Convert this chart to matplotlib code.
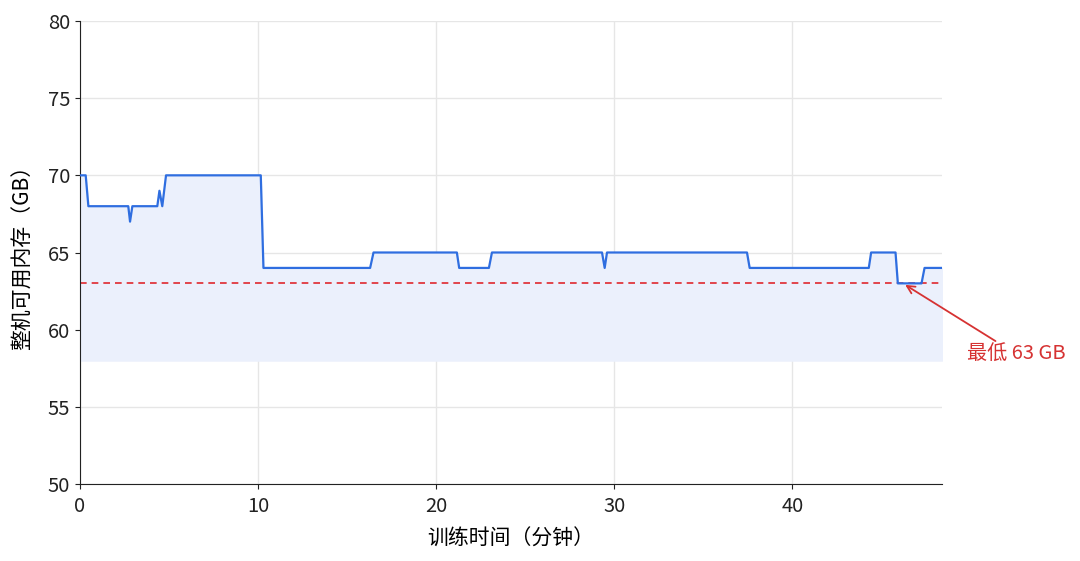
import matplotlib.pyplot as plt

plt.rcParams['font.family'] = ['Noto Sans CJK SC', 'DejaVu Sans']

# -----------------------------
# DATA (breakpoints)
# -----------------------------
minutes = [0, 0.32, 0.47, 2.71, 2.81, 2.94, 4.34, 4.46, 4.62, 4.83,
           10.15, 10.3, 16.29, 16.48, 21.16, 21.29, 22.96, 23.13,
           29.31, 29.46, 29.59, 37.45, 37.6, 44.29, 44.42, 45.79, 45.92,
           47.25, 47.42, 48.4]
mem_gb = [70, 70, 68, 68, 67, 68, 68, 69, 68, 70,
          70, 64, 64, 65, 65, 64, 64, 65,
          65, 64, 65, 65, 64, 64, 65, 65, 63,
          63, 64, 64]
min_gb = 63
fill_base = 58
x_ticks = [0, 10, 20, 30, 40]
y_ticks = [50, 55, 60, 65, 70, 75, 80]

# -----------------------------
# PLOT
# -----------------------------
fig = plt.figure(figsize=(10.8, 5.61), dpi=100)
ax = fig.add_axes([80 / 1080, 1 - 484 / 561, 862 / 1080, 463 / 561])

ax.fill_between(minutes, fill_base, mem_gb, color='#ebf0fc', zorder=1)
ax.plot(minutes, mem_gb, color='#2f6ee0', lw=1.6, zorder=3)
ax.axhline(min_gb, color='#e0282e', ls='--', lw=1.2, dashes=(4, 3), zorder=2)

ax.annotate(f'最低 {min_gb} GB', xy=(46.2, min_gb), xytext=(52.6, 58.4),
            ha='center', va='center', color='#d63232', fontsize=14.5,
            annotation_clip=False,
            arrowprops=dict(arrowstyle='->', color='#d63232', lw=1.3,
                            mutation_scale=14, shrinkA=0, shrinkB=2))

ax.set_xlim(0, 48.4)
ax.set_ylim(50, 80)
ax.set_xticks(x_ticks)
ax.set_yticks(y_ticks)
ax.tick_params(labelsize=14.5, colors='#222222')
ax.tick_params(axis='x', pad=5)
ax.grid(True, color='#e6e6e6', lw=1)
ax.set_axisbelow(True)
for s in ['top', 'right']:
    ax.spines[s].set_visible(False)
for s in ['left', 'bottom']:
    ax.spines[s].set_color('#222222')

ax.set_xlabel('训练时间（分钟）', fontsize=15, labelpad=8)
ax.set_ylabel('整机可用内存（GB）', fontsize=15, labelpad=10)

fig.savefig('out.png', dpi=100)
